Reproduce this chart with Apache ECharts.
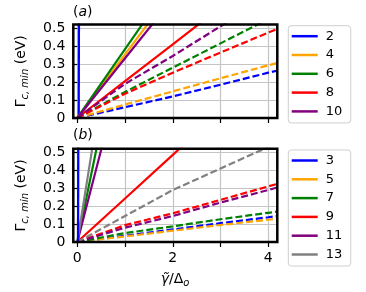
<!DOCTYPE html>
<html><head><meta charset="utf-8">
<script src="https://cdn.jsdelivr.net/npm/echarts@6/dist/echarts.min.js"></script>
<style>html,body{margin:0;padding:0;background:#fff}#c{width:366px;height:292px}</style>
</head><body><div id="c"></div>
<script>
// ---- data ----
const dashX = [0, 1, 2, 3, 4, 4.2];

const aNames = ['2', '4', '6', '8', '10'];
const aColors = ['#0000ff', '#ffa500', '#008000', '#ff0000', '#800080'];
const aSolidX = [[0.03, 0.035], [0, 1, 1.5], [0, 1, 1.4], [0, 1, 2, 2.6], [0, 1, 1.6]];
const aSolidY = [[0, 0.6], [0, 0.354, 0.531], [0, 0.383, 0.536], [0, 0.205, 0.41, 0.533], [0, 0.332, 0.531]];
const aDashY = [
  [0, 0.06, 0.12, 0.185, 0.252, 0.264],
  [0, 0.075, 0.148, 0.221, 0.293, 0.306],
  [0, 0.145, 0.28, 0.415, 0.55, 0.578],
  [0, 0.135, 0.252, 0.364, 0.475, 0.496],
  [0, 0.19, 0.345, 0.51, 0.66, 0.69]
];

const bNames = ['3', '5', '7', '9', '11', '13'];
const bColors = ['#0000ff', '#ffa500', '#008000', '#ff0000', '#800080', '#808080'];
const bSolidX = [[0.015, 0.02], [0.015, 0.02], [0, 0.4, 0.5], [0, 1, 2, 2.2], [0, 0.5, 0.6], [0, 0.31, 0.4]];
const bSolidY = [[0, 0.6], [0, 0.6], [0, 0.517, 0.645], [0, 0.243, 0.486, 0.535], [0, 0.515, 0.618], [0, 0.517, 0.667]];
const bDashY = [
  [0, 0.035, 0.07, 0.105, 0.138, 0.145],
  [0, 0.031, 0.063, 0.095, 0.124, 0.13],
  [0, 0.05, 0.087, 0.127, 0.163, 0.17],
  [0, 0.094, 0.16, 0.235, 0.31, 0.325],
  [0, 0.08, 0.145, 0.22, 0.29, 0.305],
  [0, 0.145, 0.29, 0.41, 0.53, 0.555]
];

const xTicks = [0, 1, 2, 3, 4];
const xTickLabels = [0, 2, 4];
const yTicks = [0, 0.1, 0.2, 0.3, 0.4, 0.5];

// ---- layout ----
const FONT = 'DejaVu Sans';
const LW = 2.2;
const X_MIN = -0.084, X_MAX = 4.19, Y_MIN = 0, Y_MAX = 0.52;
const G = [
  {left: 73.3, top: 24.5, width: 204, height: 93.5},
  {left: 73.3, top: 148.8, width: 204, height: 93.2}
];

const chart = echarts.init(document.getElementById('c'), null, {renderer: 'canvas'});

function mkSeries(name, gi, xs, ys, color, dashed, z) {
  return {
    type: 'line', name: name, xAxisIndex: gi, yAxisIndex: gi, z: z || 2,
    data: xs.map((x, i) => [x, ys[i]]),
    symbol: 'none', showSymbol: false, clip: true, silent: true, animation: false,
    lineStyle: {color: color, width: LW, type: dashed ? [7, 3] : 'solid'},
    itemStyle: {color: color}
  };
}

const series = [];
aNames.forEach((n, i) => {
  series.push(mkSeries(n, 0, aSolidX[i], aSolidY[i], aColors[i], false));
  series.push(mkSeries('a_d_' + n, 0, dashX, aDashY[i], aColors[i], true));
});
bNames.forEach((n, i) => {
  series.push(mkSeries(n, 1, bSolidX[i], bSolidY[i], bColors[i], false, i === 0 ? 3 : 2));
  series.push(mkSeries('b_d_' + n, 1, dashX, bDashY[i], bColors[i], true));
});

const xAxes = [0, 1].map(gi => ({
  type: 'value', gridIndex: gi, min: X_MIN, max: X_MAX,
  axisLine: {show: false},
  axisTick: {show: true, customValues: xTicks, length: 5, lineStyle: {color: '#000', width: 1.2}},
  axisLabel: {show: gi === 1, customValues: xTickLabels, fontSize: 14, color: '#000', fontFamily: FONT, margin: 9,
    formatter: v => String(Math.round(v))},
  splitLine: {show: true, lineStyle: {color: '#c4c4c4', width: 1.2}}
}));
const yAxes = [0, 1].map(gi => ({
  type: 'value', gridIndex: gi, min: Y_MIN, max: Y_MAX,
  axisLine: {show: false},
  axisTick: {show: true, customValues: yTicks, length: 5, lineStyle: {color: '#000', width: 1.2}},
  axisLabel: {show: true, customValues: yTicks, fontSize: 14, color: '#000', fontFamily: FONT, margin: 8,
    formatter: v => (Math.abs(v) < 1e-9 ? '0' : v.toFixed(1))},
  splitLine: {show: true, lineStyle: {color: '#c4c4c4', width: 1.2}}
}));

function mkLegend(names, top) {
  return {
    data: names.map(n => ({name: n, icon: 'rect'})), orient: 'vertical', left: 288.3, top: top,
    itemWidth: 26, itemHeight: 2.5, itemGap: 5.8,
    padding: [4, 8.5, 5, 3.4],
    borderColor: '#cfcfcf', borderWidth: 1, borderRadius: 3, backgroundColor: '#fff',
    textStyle: {fontSize: 13, color: '#000', fontFamily: FONT, lineHeight: 12, padding: [0, 0, 0, 3]},
    selectedMode: false
  };
}

const yNameRich = {
  n: {fontSize: 14, fontFamily: FONT, color: '#000', lineHeight: 18, verticalAlign: 'middle'},
  s: {fontSize: 10, fontFamily: FONT, fontStyle: 'italic', color: '#000', lineHeight: 12, verticalAlign: 'bottom'}
};
const yNameText = '{n|Γ}{s|c, min}{n| (eV)}';

const graphics = [];
G.forEach(g => {
  graphics.push({type: 'rect', z: 100, silent: true,
    shape: {x: g.left, y: g.top, width: g.width, height: g.height},
    style: {fill: 'none', stroke: '#000', lineWidth: 2.5}});
  graphics.push({type: 'text', z: 100, silent: true, x: 21, y: g.top + g.height / 2, rotation: Math.PI / 2,
    style: {text: yNameText, rich: yNameRich, align: 'center', verticalAlign: 'middle'}});
});
const panelRich = {
  p: {fontSize: 14, fontFamily: FONT, color: '#000'},
  i: {fontSize: 14, fontFamily: FONT, fontStyle: 'italic', color: '#000'}
};
graphics.push({type: 'text', z: 100, silent: true, x: 73, y: 12.5,
  style: {text: '{p|(}{i|a}{p|)}', rich: panelRich, align: 'left', verticalAlign: 'middle'}});
graphics.push({type: 'text', z: 100, silent: true, x: 73, y: 135.5,
  style: {text: '{p|(}{i|b}{p|)}', rich: panelRich, align: 'left', verticalAlign: 'middle'}});
graphics.push({type: 'text', z: 100, silent: true, x: 175, y: 279,
  style: {text: '{g|γ̃}{n|/Δ}{s|o}', align: 'center', verticalAlign: 'middle', rich: {
    g: {fontSize: 14, fontFamily: FONT, fontStyle: 'italic', color: '#000', lineHeight: 18, verticalAlign: 'middle'},
    n: {fontSize: 14, fontFamily: FONT, color: '#000', lineHeight: 18, verticalAlign: 'middle'},
    s: {fontSize: 10, fontFamily: FONT, fontStyle: 'italic', color: '#000', lineHeight: 12, verticalAlign: 'bottom'}
  }}});

chart.setOption({
  animation: false,
  backgroundColor: '#fff',
  grid: G.map(g => Object.assign({containLabel: false}, g)),
  xAxis: xAxes,
  yAxis: yAxes,
  legend: [mkLegend(aNames, 25.7), mkLegend(bNames, 150)],
  series: series,
  graphic: graphics
});
</script>
</body></html>
